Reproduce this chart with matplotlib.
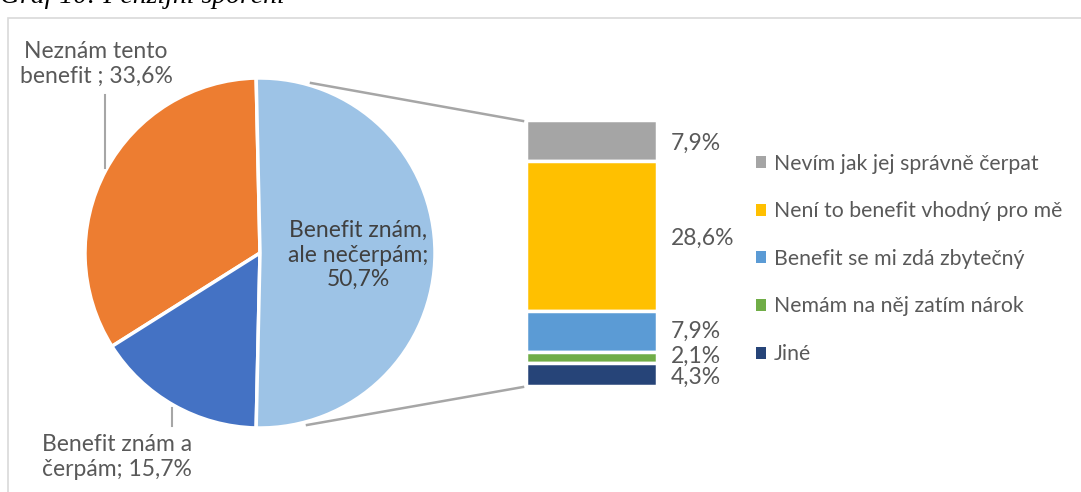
import numpy as np
import matplotlib.pyplot as plt
from matplotlib.patches import Patch, Rectangle

plt.rcParams['font.family'] = ['Lato', 'DejaVu Sans']

# Pie data (counter-clockwise order from the top)
pie_labels = ['Neznám tento\nbenefit ; 33,6%', 'Benefit znám a\nčerpám; 15,7%', 'Benefit znám,\nale nečerpám;\n50,7%']
pie_values = [33.6, 15.7, 50.7]
pie_colors = ['#ED7D31', '#4472C4', '#9DC3E6']

# Breakdown of "Benefit znám, ale nečerpám" (top to bottom)
bar_labels = ['Nevím jak jej správně čerpat', 'Není to benefit vhodný pro mě',
              'Benefit se mi zdá zbytečný', 'Nemám na něj zatím nárok', 'Jiné']
bar_values = [7.9, 28.6, 7.9, 2.1, 4.3]
bar_texts = ['7,9%', '28,6%', '7,9%', '2,1%', '4,3%']
bar_colors = ['#A5A5A5', '#FFC000', '#5B9BD5', '#70AD47', '#264478']

W, H = 1081, 492
fig = plt.figure(figsize=(W / 100, H / 100), dpi=100)

# main axes in pixel units (y up)
ax = fig.add_axes([0, 0, 1, 1])

cx, cy, r = 260, H - 253, 175
# the split-off slice is centred on the right side
start = pie_values[2] * 3.6 / 2
ax.pie(pie_values, colors=pie_colors, center=(cx, cy), radius=r, startangle=start,
       counterclock=True, wedgeprops=dict(edgecolor='white', linewidth=2.5))
ax.set_xlim(0, W)
ax.set_ylim(0, H)
ax.set_aspect('equal')
ax.axis('off')

# chart frame
ax.add_patch(Rectangle((8, -5), W, H - 13, fill=False, edgecolor='#D9D9D9', lw=1.2))

# title (cut off at the top)
ax.text(0, H - 3, 'Graf 10: Penzijní spoření', fontsize=20, style='italic',
        family='Liberation Serif', color='#000000', va='baseline', ha='left')

txt = '#595959'
fs = 16.5
ax.text(358, H - 255, pie_labels[2], ha='center', va='center', fontsize=fs,
        color='#404040', linespacing=1.22)
ax.text(42, H - 457, pie_labels[1], ha='left', va='center', fontsize=fs,
        color=txt, linespacing=1.22)
ax.text(96, H - 64, pie_labels[0], ha='center', va='center', fontsize=fs,
        color=txt, linespacing=1.22)
# leader lines
ax.plot([105, 105], [H - 95, H - 168], color='#A6A6A6', lw=1.5)
ax.plot([172, 172], [H - 408, H - 426], color='#A6A6A6', lw=1.5)

# connector lines pie -> bar
ax.plot([311, 523], [H - 83, H - 121], color='#A6A6A6', lw=1.8)
ax.plot([307, 523], [H - 425, H - 387], color='#A6A6A6', lw=1.8)

# stacked bar
bx = fig.add_axes([526 / W, (H - 386) / H, 131 / W, 266 / H])
total = sum(bar_values)
bottom = total
centers = []
for v, c in zip(bar_values, bar_colors):
    bottom -= v
    bx.bar(0, v, bottom=bottom, width=1, color=c, edgecolor='white', linewidth=2.5)
    centers.append(bottom + v / 2)
bx.set_xlim(-0.5, 0.5)
bx.set_ylim(0, total)
bx.axis('off')

offsets = [-3, -2, 0, 2, -3]
for t, yc, off in zip(bar_texts, centers, offsets):
    bx.annotate(t, (0.5, yc), xytext=(14, off), textcoords='offset pixels',
                ha='left', va='center', fontsize=fs, color=txt, annotation_clip=False)

handles = [Patch(facecolor=c, edgecolor='none') for c in bar_colors]
fig.legend(handles, bar_labels, loc='upper left', bbox_to_anchor=(745 / W, (H - 143) / H),
           frameon=False, fontsize=15.3, labelcolor=txt, handlelength=0.5, handleheight=0.5,
           handletextpad=0.35, labelspacing=1.3, borderpad=0)

fig.savefig('out.png', dpi=100)
